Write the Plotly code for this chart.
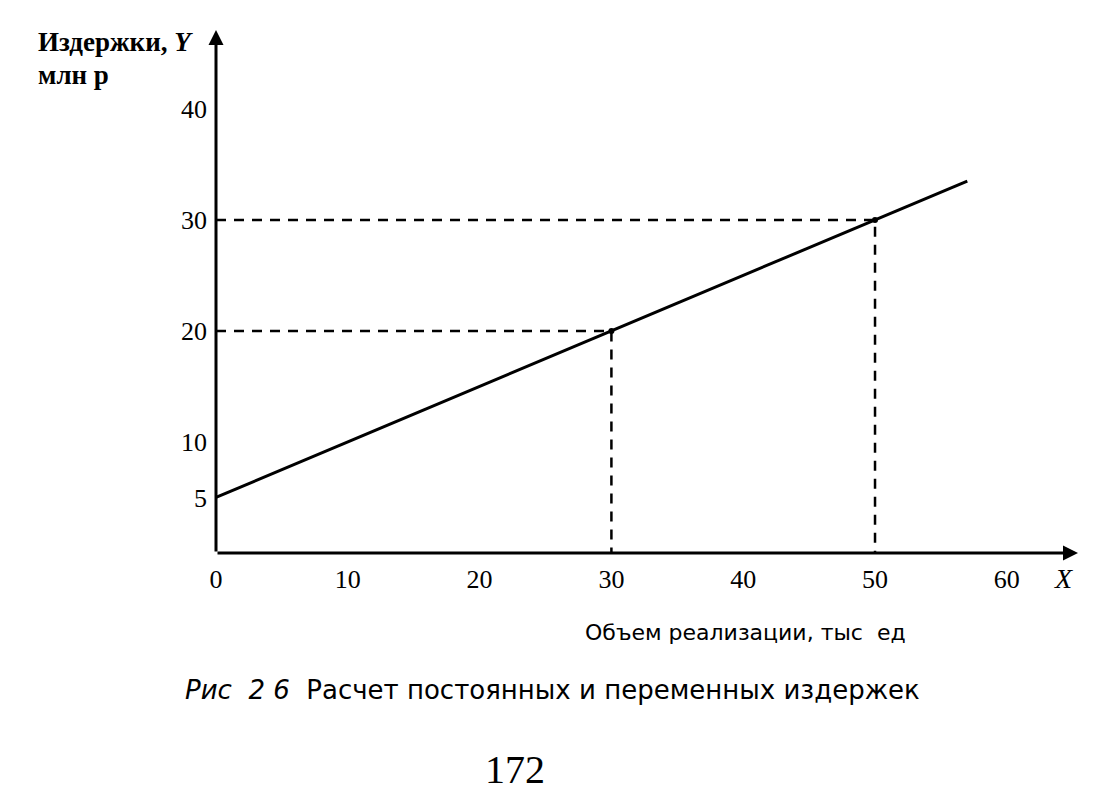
import plotly.graph_objects as go

# ---- data ----
line_x = [0, 30, 50, 57]
line_y = [5, 20, 30, 33.5]
guide1_x = [0, 30, 30]
guide1_y = [20, 20, 0]
guide2_x = [0, 50, 50]
guide2_y = [30, 30, 0]
point_x = [30, 50]
point_y = [20, 30]
x_ticks = [0, 10, 20, 30, 40, 50, 60]
y_ticks = [5, 10, 20, 30, 40]

W, H = 1111, 801
L, R, T, B = 216, 33, 30, 248
PW, PH = W - L - R, H - T - B
XMAX, YMAX = 65.4, 47.1

def px(x):
    return (x - L) / PW

def py(y):
    return (H - B - y) / PH

fig = go.Figure()
fig.add_trace(go.Scatter(x=guide1_x, y=guide1_y, mode="lines",
                         line=dict(color="black", width=2.5, dash="10px,8px"), showlegend=False))
fig.add_trace(go.Scatter(x=guide2_x, y=guide2_y, mode="lines",
                         line=dict(color="black", width=2.5, dash="10px,8px"), showlegend=False))
fig.add_trace(go.Scatter(x=line_x, y=line_y, mode="lines",
                         line=dict(color="black", width=3), showlegend=False))
fig.add_trace(go.Scatter(x=point_x, y=point_y, mode="markers",
                         marker=dict(color="black", size=6), showlegend=False))

serif = "Liberation Serif"
sans = "DejaVu Sans"

# axes with arrows
fig.add_annotation(x=XMAX, y=0, ax=0, ay=0, xref="x", yref="y", axref="x", ayref="y",
                   showarrow=True, arrowhead=2, arrowsize=1, arrowwidth=3, arrowcolor="black", text="")
fig.add_annotation(x=0, y=YMAX, ax=0, ay=0, xref="x", yref="y", axref="x", ayref="y",
                   showarrow=True, arrowhead=2, arrowsize=1, arrowwidth=3, arrowcolor="black", text="")

fig.add_annotation(x=px(36), y=py(42), xref="paper", yref="paper", xanchor="left", yanchor="middle",
                   text="<b>Издержки, <i>Y</i></b>", showarrow=False,
                   font=dict(family=serif, size=27, color="black"))
fig.add_annotation(x=px(36), y=py(75), xref="paper", yref="paper", xanchor="left", yanchor="middle",
                   text="<b>млн р</b>", showarrow=False,
                   font=dict(family=serif, size=27, color="black"))
fig.add_annotation(x=px(1063), y=py(578), xref="paper", yref="paper", xanchor="center", yanchor="middle",
                   text="<i>X</i>", showarrow=False,
                   font=dict(family=serif, size=28, color="black"))
fig.add_annotation(x=px(745), y=py(632), xref="paper", yref="paper", xanchor="center", yanchor="middle",
                   text="Объем реализации, тыс  ед", showarrow=False,
                   font=dict(family=sans, size=22, color="black"))
fig.add_annotation(x=px(552), y=py(690), xref="paper", yref="paper", xanchor="center", yanchor="middle",
                   text="<i>Рис  2 6</i>  Расчет постоянных и переменных издержек", showarrow=False,
                   font=dict(family=sans, size=26, color="black"))
fig.add_annotation(x=px(515), y=py(770), xref="paper", yref="paper", xanchor="center", yanchor="middle",
                   text="172", showarrow=False,
                   font=dict(family=serif, size=40, color="black"))

fig.update_layout(
    width=W, height=H,
    margin=dict(l=L, r=R, t=T, b=B),
    plot_bgcolor="white", paper_bgcolor="white",
    xaxis=dict(range=[0, XMAX], tickvals=x_ticks, ticktext=[str(v) for v in x_ticks],
               showgrid=False, zeroline=False, showline=False, ticks="",
               tickfont=dict(family=serif, size=26, color="black"), ticklabelstandoff=8),
    yaxis=dict(range=[0, YMAX], tickvals=y_ticks, ticktext=[str(v) for v in y_ticks],
               showgrid=False, zeroline=False, showline=False, ticks="",
               tickfont=dict(family=serif, size=26, color="black"), ticklabelstandoff=8),
)

fig.write_html("out.html", config={"displayModeBar": False},
               post_script="document.body.style.margin='0';")
